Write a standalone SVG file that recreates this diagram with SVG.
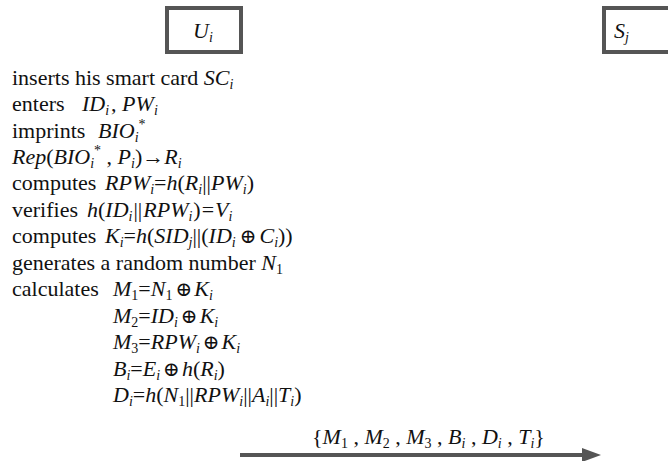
<svg xmlns="http://www.w3.org/2000/svg" width="668" height="461" viewBox="0 0 668 461">
<style>
.t{font-family:'Liberation Serif','Times New Roman',serif;font-size:22px;fill:#111;white-space:pre}
.i{font-style:italic}
.s{font-size:14px}
.o{font-family:'DejaVu Serif','Liberation Serif',serif;font-size:20px}
.box{fill:#fff;stroke:#555;stroke-width:4}
.conn{stroke:#555;stroke-width:4;fill:none}
</style>
<g id="node-Ui">
<rect class="box" x="167" y="8" width="74" height="44"/>
<text class="t" x="193" y="38"><tspan class="i">U</tspan><tspan class="s i" dy="4">i</tspan></text>
</g>
<g id="node-Sj">
<rect class="box" x="604" y="8" width="80" height="44"/>
<text class="t" x="614" y="38"><tspan class="i">S</tspan><tspan class="s i" dy="4">j</tspan></text>
</g>
<g id="steps">
<text class="t" x="12" y="85">inserts his smart card <tspan class="i">SC</tspan><tspan class="s i" dy="4">i</tspan></text>
<text class="t" x="12" y="111">enters<tspan x="82" class="i">ID</tspan><tspan class="s i" dy="4">i</tspan><tspan dy="-4" dx="2">, </tspan><tspan class="i">PW</tspan><tspan class="s i" dy="4">i</tspan></text>
<text class="t" x="12" y="138">imprints<tspan x="98" class="i">BIO</tspan><tspan class="s i" dy="4">i</tspan><tspan class="s" dx="0" dy="-13">*</tspan></text>
<text class="t" x="12" y="164"><tspan class="i">Rep</tspan>(<tspan class="i">BIO</tspan><tspan class="s i" dy="4">i</tspan><tspan class="s" dx="0" dy="-13">*</tspan><tspan dy="9"> , </tspan><tspan class="i">P</tspan><tspan class="s i" dy="4">i</tspan><tspan dy="-4">)→</tspan><tspan class="i">R</tspan><tspan class="s i" dy="4">i</tspan></text>
<text class="t" x="12" y="190">computes<tspan x="105" class="i">RPW</tspan><tspan class="s i" dy="4">i</tspan><tspan dy="-4">=</tspan><tspan class="i">h</tspan>(<tspan class="i">R</tspan><tspan class="s i" dy="4">i</tspan><tspan dy="-4">||</tspan><tspan class="i">PW</tspan><tspan class="s i" dy="4">i</tspan><tspan dy="-4">)</tspan></text>
<text class="t" x="12" y="217">verifies<tspan x="87" class="i">h</tspan>(<tspan class="i">ID</tspan><tspan class="s i" dy="4">i</tspan><tspan dy="-4" dx="1">||</tspan><tspan class="i" dx="1">RPW</tspan><tspan class="s i" dy="4">i</tspan><tspan dy="-4" dx="1">)</tspan><tspan dx="1">=</tspan><tspan class="i" dx="1">V</tspan><tspan class="s i" dy="4">i</tspan></text>
<text class="t" x="12" y="243">computes<tspan x="105" class="i">K</tspan><tspan class="s i" dy="4">i</tspan><tspan dy="-4">=</tspan><tspan class="i">h</tspan>(<tspan class="i">SID</tspan><tspan class="s i" dy="4">j</tspan><tspan dy="-4">||(</tspan><tspan class="i">ID</tspan><tspan class="s i" dy="4">i</tspan><tspan class="o" dx="4" dy="-4">⊕</tspan><tspan class="i" dx="3">C</tspan><tspan class="s i" dy="4">i</tspan><tspan dy="-4">))</tspan></text>
<text class="t" x="12" y="270">generates a random number <tspan class="i">N</tspan><tspan class="s" dy="4">1</tspan></text>
<text class="t" x="12" y="296">calculates<tspan x="113" class="i">M</tspan><tspan class="s" dy="4">1</tspan><tspan dy="-4">=</tspan><tspan class="i">N</tspan><tspan class="s" dy="4">1</tspan><tspan class="o" dx="3" dy="-4">⊕</tspan><tspan class="i" dx="2">K</tspan><tspan class="s i" dy="4">i</tspan></text>
<text class="t" x="113" y="323"><tspan class="i">M</tspan><tspan class="s" dy="4">2</tspan><tspan dy="-4">=</tspan><tspan class="i">ID</tspan><tspan class="s i" dy="4">i</tspan><tspan class="o" dx="3" dy="-4">⊕</tspan><tspan class="i" dx="2">K</tspan><tspan class="s i" dy="4">i</tspan></text>
<text class="t" x="113" y="349"><tspan class="i">M</tspan><tspan class="s" dy="4">3</tspan><tspan dy="-4">=</tspan><tspan class="i">RPW</tspan><tspan class="s i" dy="4">i</tspan><tspan class="o" dx="3" dy="-4">⊕</tspan><tspan class="i" dx="2">K</tspan><tspan class="s i" dy="4">i</tspan></text>
<text class="t" x="113" y="376"><tspan class="i">B</tspan><tspan class="s i" dy="4">i</tspan><tspan dy="-4">=</tspan><tspan class="i">E</tspan><tspan class="s i" dy="4">i</tspan><tspan class="o" dx="3" dy="-4">⊕</tspan><tspan class="i" dx="2">h</tspan>(<tspan class="i">R</tspan><tspan class="s i" dy="4">i</tspan><tspan dy="-4">)</tspan></text>
<text class="t" x="113" y="402"><tspan class="i">D</tspan><tspan class="s i" dy="4">i</tspan><tspan dy="-4">=</tspan><tspan class="i">h</tspan>(<tspan class="i">N</tspan><tspan class="s" dy="4">1</tspan><tspan dy="-4">||</tspan><tspan class="i">RPW</tspan><tspan class="s i" dy="4">i</tspan><tspan dy="-4">||</tspan><tspan class="i">A</tspan><tspan class="s i" dy="4">i</tspan><tspan dy="-4">||</tspan><tspan class="i">T</tspan><tspan class="s i" dy="4">i</tspan><tspan dy="-4">)</tspan></text>
</g>
<g id="connectors">
<line class="conn" x1="240" y1="455" x2="584" y2="455"/>
<polygon points="582,448 601,455 582,462" fill="#555"/>
<text class="t" x="312" y="444">{<tspan class="i">M</tspan><tspan class="s" dy="4">1</tspan><tspan dy="-4"> , </tspan><tspan class="i">M</tspan><tspan class="s" dy="4">2</tspan><tspan dy="-4"> , </tspan><tspan class="i">M</tspan><tspan class="s" dy="4">3</tspan><tspan dy="-4"> , </tspan><tspan class="i">B</tspan><tspan class="s i" dy="4">i</tspan><tspan dy="-4"> , </tspan><tspan class="i">D</tspan><tspan class="s i" dy="4">i</tspan><tspan dy="-4"> , </tspan><tspan class="i">T</tspan><tspan class="s i" dy="4">i</tspan><tspan dy="-4">}</tspan></text>
</g>
</svg>
